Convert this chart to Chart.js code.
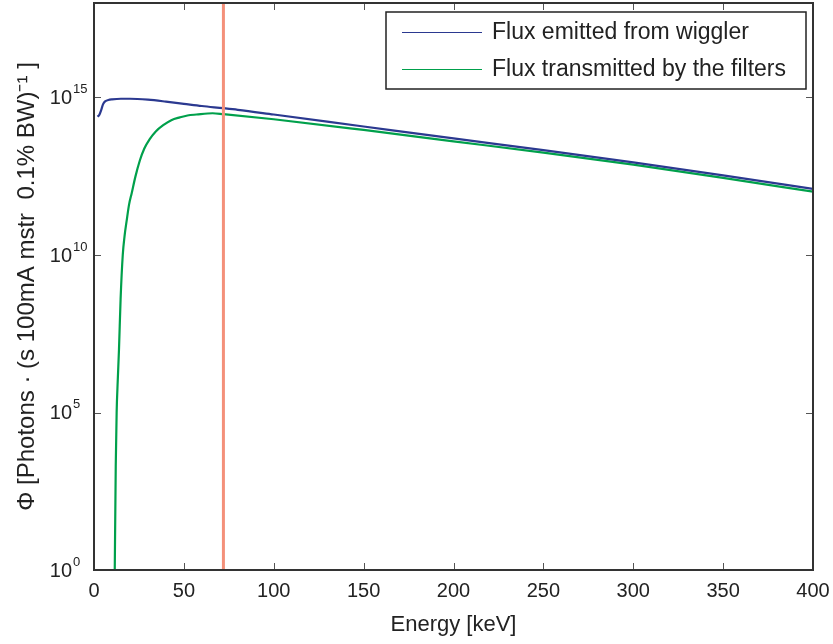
<!DOCTYPE html>
<html>
<head>
<meta charset="utf-8">
<script src="https://cdn.jsdelivr.net/npm/chart.js@4/dist/chart.umd.min.js"></script>
<style>
  html, body { margin: 0; padding: 0; background: #fff; }
  #wrap { width: 833px; height: 644px; }
</style>
</head>
<body>
<div id="wrap"><canvas id="chart_1" width="833" height="644"></canvas></div>
<script>
// energies (keV) and flux
const energyWiggler = [2, 3, 4, 5, 6, 8, 10, 15, 20, 30, 40, 50, 60, 72, 80, 100, 150, 200, 250, 300, 350, 400];
const fluxWiggler = [2.45e14, 2.82e14, 3.98e14, 6.03e14, 7.41e14, 8.32e14, 8.71e14, 9.12e14, 9.12e14, 8.51e14,
    7.41e14, 6.31e14, 5.37e14, 4.57e14, 4.07e14, 2.88e14, 1.20e14, 5.01e13, 2.14e13, 8.71e12, 3.39e12, 1.26e12];

const energyFiltered = [11.5, 12.1, 12.6, 13.2, 13.9, 14.8, 16, 17, 18.2, 19.5, 21, 23, 25.5, 28, 31, 34.5,
    38.5, 43, 47.8, 52, 57, 66, 72, 100, 150, 200, 250, 300, 350, 400];
const fluxFiltered = [0.5, 2.0e3, 1e5, 1e6, 1e7, 3.98e8, 1e10, 3.98e10, 1.26e11, 3.98e11, 9.33e11, 3.02e12, 1e13,
    2.40e13, 4.79e13, 8.51e13, 1.32e14, 1.91e14, 2.34e14, 2.69e14, 2.88e14, 3.16e14, 2.95e14, 2.04e14, 9.33e13,
    4.07e13, 1.78e13, 7.41e12, 2.82e12, 1.02e12];

const cutEnergy = [72, 72];
const cutFlux = [1, 1e18];

const seriesNames = ['Flux emitted from wiggler', 'Flux transmitted by the filters'];
const yTickValues = [1, 1e5, 1e10, 1e15];
const yTickExponents = ['0', '5', '10', '15'];

function toPoints(xs, ys) {
    return xs.map((x, i) => ({ x: x, y: ys[i] }));
}

const FONT = '"Liberation Sans", Arial, sans-serif';

// box round the plot, inward ticks, 10^n labels and the legend inside the axes
const framePlugin = {
    id: 'frame',
    afterDatasetsDraw(chart) {
        const ctx = chart.ctx;
        const a = chart.chartArea;
        const xs = chart.scales.x, ys = chart.scales.y;
        ctx.save();
        ctx.strokeStyle = '#555';
        ctx.lineWidth = 1;
        ctx.beginPath();
        for (const t of xs.ticks) {
            const px = Math.round(xs.getPixelForValue(t.value)) + 0.5;
            ctx.moveTo(px, a.bottom); ctx.lineTo(px, a.bottom - 7);
            ctx.moveTo(px, a.top); ctx.lineTo(px, a.top + 7);
        }
        for (const t of ys.ticks) {
            const py = Math.round(ys.getPixelForValue(t.value)) + 0.5;
            ctx.moveTo(a.left, py); ctx.lineTo(a.left + 7, py);
            ctx.moveTo(a.right, py); ctx.lineTo(a.right - 7, py);
        }
        ctx.stroke();
        ctx.strokeStyle = '#333';
        ctx.lineWidth = 2;
        ctx.strokeRect(a.left, a.top, a.right - a.left, a.bottom - a.top);

        // y tick labels as 10 with a raised exponent
        ctx.fillStyle = '#222';
        ctx.textBaseline = 'middle';
        yTickValues.forEach((v, i) => {
            const py = ys.getPixelForValue(v);
            ctx.font = '20px ' + FONT;
            ctx.textAlign = 'right';
            ctx.fillText('10', a.left - 22, py + 1);
            ctx.font = '13px ' + FONT;
            ctx.textAlign = 'left';
            ctx.fillText(yTickExponents[i], a.left - 21, py - 8);
        });

        // legend
        const boxR = a.right - 7, boxT = a.top + 9, boxL = boxR - 420, boxB = boxT + 77;
        ctx.fillStyle = '#fff';
        ctx.fillRect(boxL, boxT, boxR - boxL, boxB - boxT);
        ctx.strokeStyle = '#222';
        ctx.lineWidth = 1.5;
        ctx.strokeRect(boxL, boxT, boxR - boxL, boxB - boxT);
        ctx.font = '23px ' + FONT;
        ctx.textAlign = 'left';
        ctx.textBaseline = 'middle';
        ctx.fillStyle = '#222';
        const items = chart.data.datasets.filter(d => d.label);
        items.forEach((d, i) => {
            const y = boxT + 20 + i * 37;
            ctx.strokeStyle = d.borderColor;
            ctx.lineWidth = 1;
            ctx.beginPath();
            ctx.moveTo(boxL + 16, y + 0.5); ctx.lineTo(boxL + 96, y + 0.5);
            ctx.stroke();
            ctx.fillText(d.label, boxL + 106, y + 1);
        });
        ctx.restore();
    }
};

new Chart('chart_1', {
    type: 'line',
    data: {
        datasets: [
            {
                data: toPoints(cutEnergy, cutFlux),
                borderColor: '#f4907a',
                borderWidth: 3,
                pointRadius: 0,
                order: 0,
            },
            {
                label: seriesNames[0],
                data: toPoints(energyWiggler, fluxWiggler),
                borderColor: '#2b3990',
                borderWidth: 2.2,
                pointRadius: 0,
                cubicInterpolationMode: 'monotone',
                order: 1,
            },
            {
                label: seriesNames[1],
                data: toPoints(energyFiltered, fluxFiltered),
                borderColor: '#00a04b',
                borderWidth: 2.2,
                pointRadius: 0,
                cubicInterpolationMode: 'monotone',
                order: 2,
            },
        ],
    },
    options: {
        responsive: false,
        animation: { duration: 0 },
        layout: { padding: { top: 3, right: 20, left: 0, bottom: 0 } },
        plugins: {
            legend: { display: false },
            tooltip: { enabled: false },
        },
        scales: {
            x: {
                type: 'linear',
                min: 0,
                max: 400,
                grid: { drawOnChartArea: false, drawTicks: false },
                border: { display: false },
                ticks: {
                    stepSize: 50,
                    padding: 9,
                    color: '#222',
                    font: { family: FONT, size: 20 },
                },
                title: {
                    display: true,
                    text: 'Energy [keV]',
                    color: '#222',
                    font: { family: FONT, size: 22 },
                    padding: { top: 0, bottom: 6 },
                },
                afterFit(scale) {
                    scale.height = 74;
                    scale.paddingLeft = 0;
                    scale.paddingRight = 0;
                },
            },
            y: {
                type: 'logarithmic',
                min: 1,
                max: 1e18,
                grid: { drawOnChartArea: false, drawTicks: false },
                border: { display: false },
                afterBuildTicks(scale) {
                    scale.ticks = yTickValues.map(v => ({ value: v }));
                },
                ticks: { display: false },
                title: {
                    display: true,
                    text: '\u03a6 [Photons \u00b7 (s 100mA mstr  0.1% BW)\u207b\u00b9 ]',
                    color: '#222',
                    font: { family: FONT, size: 24 },
                    padding: { top: 13, bottom: 0 },
                },
                afterFit(scale) {
                    scale.width = 94;
                    scale.paddingTop = 0;
                    scale.paddingBottom = 0;
                },
            },
        },
    },
    plugins: [framePlugin],
});
</script>
</body>
</html>
